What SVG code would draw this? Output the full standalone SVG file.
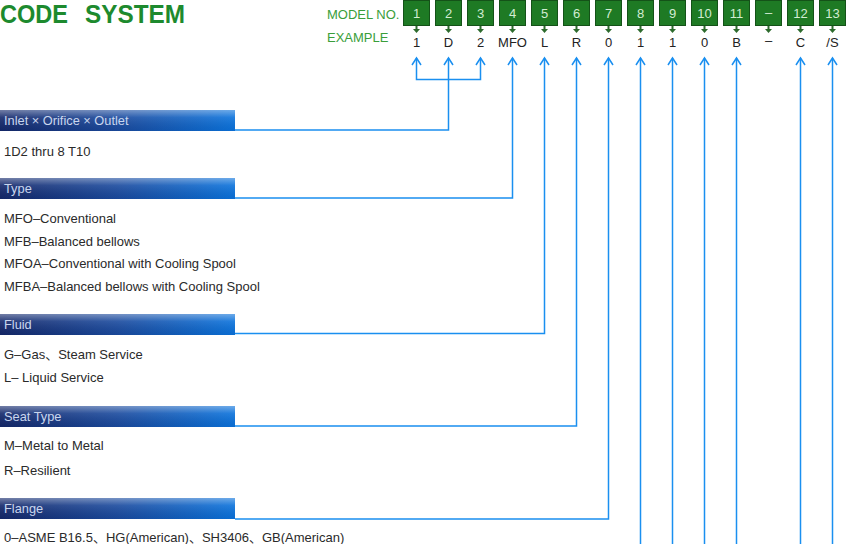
<svg xmlns="http://www.w3.org/2000/svg" width="852" height="544" viewBox="0 0 852 544">
<defs>
<linearGradient id="bh" x1="0" y1="0" x2="1" y2="0">
<stop offset="0" stop-color="#14286a"/>
<stop offset="0.5" stop-color="#1a4a9e"/>
<stop offset="1" stop-color="#0a72dc"/>
</linearGradient>
<linearGradient id="bv" x1="0" y1="0" x2="0" y2="1">
<stop offset="0" stop-color="#ffffff" stop-opacity="0.4"/>
<stop offset="0.35" stop-color="#ffffff" stop-opacity="0.1"/>
<stop offset="1" stop-color="#000000" stop-opacity="0.05"/>
</linearGradient>
<symbol id="gd" overflow="visible">
<rect x="-1" y="0" width="2" height="3" fill="#2d6b2d"/>
<path d="M-3.5,3 L3.5,3 L0,7 Z" fill="#2d6b2d"/>
</symbol>
</defs>
<style>
text{font-family:"Liberation Sans",Arial,"Noto Sans CJK SC",sans-serif;}
.title{font-weight:bold;font-size:25px;fill:#1d8a2e;}
.lbl{font-size:13px;fill:#3a9e3a;}
.box{fill:#1e7a24;stroke:#145218;stroke-width:1;}
.num{font-size:13px;fill:#d2ecd2;text-anchor:middle;}
.ex{font-size:13px;fill:#222;text-anchor:middle;}
.ban{fill:url(#bh);}
.banh{fill:url(#bv);}
.bt{font-size:12.8px;fill:#c9d6ee;}
.it{font-size:13px;fill:#2a2a2a;}
.ln{fill:none;stroke:#1a8ff0;stroke-width:1.5;}
.arr{fill:none;stroke:#1a8ff0;stroke-width:1.5;stroke-linejoin:miter;}
</style>
<g id="title">
<text class="title" x="0" y="23" textLength="68" lengthAdjust="spacingAndGlyphs">CODE</text>
<text class="title" x="85" y="23" textLength="100" lengthAdjust="spacingAndGlyphs">SYSTEM</text>
</g>
<g id="labels">
<text class="lbl" x="327" y="19">MODEL NO.</text>
<text class="lbl" x="327" y="42">EXAMPLE</text>
</g>
<g id="boxes">
<g id="box1"><rect class="box" x="403.5" y="0.5" width="26" height="25"/><text class="num" x="416.5" y="18">1</text><use href="#gd" x="416.5" y="26"/><text class="ex" x="416.5" y="47">1</text></g>
<g id="box2"><rect class="box" x="435.5" y="0.5" width="26" height="25"/><text class="num" x="448.5" y="18">2</text><use href="#gd" x="448.5" y="26"/><text class="ex" x="448.5" y="47">D</text></g>
<g id="box3"><rect class="box" x="467.5" y="0.5" width="26" height="25"/><text class="num" x="480.5" y="18">3</text><use href="#gd" x="480.5" y="26"/><text class="ex" x="480.5" y="47">2</text></g>
<g id="box4"><rect class="box" x="499.5" y="0.5" width="26" height="25"/><text class="num" x="512.5" y="18">4</text><use href="#gd" x="512.5" y="26"/><text class="ex" x="512.5" y="47">MFO</text></g>
<g id="box5"><rect class="box" x="531.5" y="0.5" width="26" height="25"/><text class="num" x="544.5" y="18">5</text><use href="#gd" x="544.5" y="26"/><text class="ex" x="544.5" y="47">L</text></g>
<g id="box6"><rect class="box" x="563.5" y="0.5" width="26" height="25"/><text class="num" x="576.5" y="18">6</text><use href="#gd" x="576.5" y="26"/><text class="ex" x="576.5" y="47">R</text></g>
<g id="box7"><rect class="box" x="595.5" y="0.5" width="26" height="25"/><text class="num" x="608.5" y="18">7</text><use href="#gd" x="608.5" y="26"/><text class="ex" x="608.5" y="47">0</text></g>
<g id="box8"><rect class="box" x="627.5" y="0.5" width="26" height="25"/><text class="num" x="640.5" y="18">8</text><use href="#gd" x="640.5" y="26"/><text class="ex" x="640.5" y="47">1</text></g>
<g id="box9"><rect class="box" x="659.5" y="0.5" width="26" height="25"/><text class="num" x="672.5" y="18">9</text><use href="#gd" x="672.5" y="26"/><text class="ex" x="672.5" y="47">1</text></g>
<g id="box10"><rect class="box" x="691.5" y="0.5" width="26" height="25"/><text class="num" x="704.5" y="18">10</text><use href="#gd" x="704.5" y="26"/><text class="ex" x="704.5" y="47">0</text></g>
<g id="box11"><rect class="box" x="723.5" y="0.5" width="26" height="25"/><text class="num" x="736.5" y="18">11</text><use href="#gd" x="736.5" y="26"/><text class="ex" x="736.5" y="47">B</text></g>
<g id="boxdash"><rect class="box" x="755.5" y="0.5" width="26" height="25"/><text class="num" x="768.5" y="17">–</text><use href="#gd" x="768.5" y="26"/><text class="ex" x="768.5" y="45">–</text></g>
<g id="box12"><rect class="box" x="787.5" y="0.5" width="26" height="25"/><text class="num" x="800.5" y="18">12</text><use href="#gd" x="800.5" y="26"/><text class="ex" x="800.5" y="47">C</text></g>
<g id="box13"><rect class="box" x="819.5" y="0.5" width="26" height="25"/><text class="num" x="832.5" y="18">13</text><use href="#gd" x="832.5" y="26"/><text class="ex" x="832.5" y="47">/S</text></g>
</g>
<g id="sec-inlet">
<rect class="ban" x="0" y="110" width="235" height="21"/><rect class="banh" x="0" y="110" width="235" height="21"/>
<text class="bt" x="4" y="125">Inlet × Orifice × Outlet</text>
<text class="it" x="4" y="156">1D2 thru 8 T10</text>
</g>
<g id="sec-type">
<rect class="ban" x="0" y="178" width="235" height="21"/><rect class="banh" x="0" y="178" width="235" height="21"/>
<text class="bt" x="4" y="193">Type</text>
<text class="it" x="4" y="223">MFO–Conventional</text>
<text class="it" x="4" y="246">MFB–Balanced bellows</text>
<text class="it" x="4" y="268">MFOA–Conventional with Cooling Spool</text>
<text class="it" x="4" y="291">MFBA–Balanced bellows with Cooling Spool</text>
</g>
<g id="sec-fluid">
<rect class="ban" x="0" y="314" width="235" height="21"/><rect class="banh" x="0" y="314" width="235" height="21"/>
<text class="bt" x="4" y="329">Fluid</text>
<text class="it" x="4" y="359">G–Gas、Steam Service</text>
<text class="it" x="4" y="382">L– Liquid Service</text>
</g>
<g id="sec-seat">
<rect class="ban" x="0" y="406" width="235" height="21"/><rect class="banh" x="0" y="406" width="235" height="21"/>
<text class="bt" x="4" y="421">Seat Type</text>
<text class="it" x="4" y="450">M–Metal to Metal</text>
<text class="it" x="4" y="475">R–Resilient</text>
</g>
<g id="sec-flange">
<rect class="ban" x="0" y="498" width="235" height="21"/><rect class="banh" x="0" y="498" width="235" height="21"/>
<text class="bt" x="4" y="513">Flange</text>
<text class="it" x="4" y="541.5">0–ASME B16.5、HG(American)、SH3406、GB(American)</text>
</g>
<g id="connectors">
<path class="ln" d="M416.5,58 V79.5 H480.5 V58"/>
<path class="ln" d="M448.5,58 V130 H235"/>
<path class="ln" d="M512.5,58 V198 H235"/>
<path class="ln" d="M544.5,58 V333.5 H235"/>
<path class="ln" d="M576.5,58 V426 H235"/>
<path class="ln" d="M608.5,58 V519 H235"/>
<path class="ln" d="M640.5,58 V544"/>
<path class="ln" d="M672.5,58 V544"/>
<path class="ln" d="M704.5,58 V544"/>
<path class="ln" d="M736.5,58 V544"/>
<path class="ln" d="M800.5,58 V544"/>
<path class="ln" d="M832.5,58 V544"/>
<g class="arr">
<path d="M412,65 L416.5,58 L421,65"/>
<path d="M444,65 L448.5,58 L453,65"/>
<path d="M476,65 L480.5,58 L485,65"/>
<path d="M508,65 L512.5,58 L517,65"/>
<path d="M540,65 L544.5,58 L549,65"/>
<path d="M572,65 L576.5,58 L581,65"/>
<path d="M604,65 L608.5,58 L613,65"/>
<path d="M636,65 L640.5,58 L645,65"/>
<path d="M668,65 L672.5,58 L677,65"/>
<path d="M700,65 L704.5,58 L709,65"/>
<path d="M732,65 L736.5,58 L741,65"/>
<path d="M796,65 L800.5,58 L805,65"/>
<path d="M828,65 L832.5,58 L837,65"/>
</g>
</g>
</svg>
